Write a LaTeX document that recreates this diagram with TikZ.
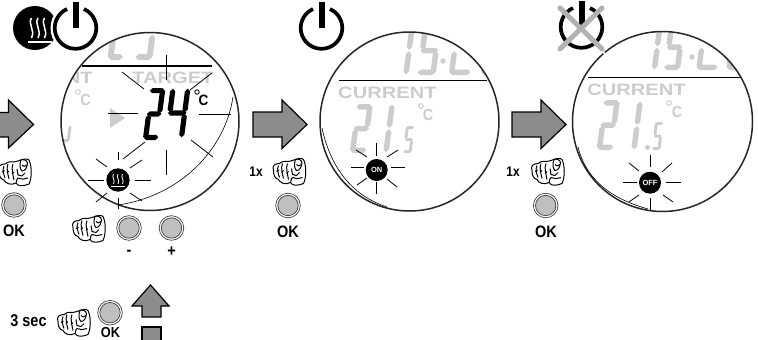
\documentclass[tikz,border=0pt]{standalone}
\usepackage{fontspec}
\setmainfont{Liberation Sans}
\definecolor{faint}{gray}{0.8}
\definecolor{arrowgray}{gray}{0.55}
\definecolor{btn}{gray}{0.75}
\tikzset{
  display/.style={draw=black!85,line width=1.5pt,fill=none},
  rule/.style={line width=1.4pt},
  ray/.style={line width=0.8pt},
  bigarrow/.style={draw=black,line width=1.2pt,fill=arrowgray,line join=miter},
  lbl/.style={font=\bfseries\fontsize{14}{14}\selectfont,inner sep=0pt,xscale=0.85},
  biglbl/.style={font=\bfseries\fontsize{16.5}{16.5}\selectfont,inner sep=0pt,xscale=0.88},
  faintlbl/.style={text=faint,font=\bfseries\fontsize{16.5}{16.5}\selectfont,inner sep=0pt,xscale=1.22},
  degC/.style={inner sep=0pt,font=\bfseries\fontsize{16}{16}\selectfont,xscale=0.9},
}
\newcommand{\hs}[3]{\fill (#1,#3) -- (#1+\hf,#3-\hf) -- (#2-\hf,#3-\hf) -- (#2,#3) -- (#2-\hf,#3+\hf) -- (#1+\hf,#3+\hf) -- cycle;}
\newcommand{\vs}[3]{\fill (#1,#2) -- (#1+\hf,#2+\hf) -- (#1+\hf,#3-\hf) -- (#1,#3) -- (#1-\hf,#3-\hf) -- (#1-\hf,#2+\hf) -- cycle;}
\newcommand{\sevseg}[7]{%
 \begin{scope}[shift={(#1,#2)},xslant=0.13,fill=#6]
 \pgfmathsetmacro{\hf}{#5/2}
 \pgfmathsetmacro{\xL}{\hf}
 \pgfmathsetmacro{\xR}{#3-\hf}
 \pgfmathsetmacro{\yT}{\hf}
 \pgfmathsetmacro{\yB}{#4-\hf}
 \pgfmathsetmacro{\yM}{#4/2}
 \pgfmathsetmacro{\gp}{0.7}
 \foreach \s in {#7}{%
   \ifnum\s=1 \hs{\gp}{#3-\gp}{\yT}\fi
   \ifnum\s=2 \vs{\xR}{\gp}{\yM-\gp}\fi
   \ifnum\s=3 \vs{\xR}{\yM+\gp}{#4-\gp}\fi
   \ifnum\s=4 \hs{\gp}{#3-\gp}{\yB}\fi
   \ifnum\s=5 \vs{\xL}{\yM+\gp}{#4-\gp}\fi
   \ifnum\s=6 \vs{\xL}{\gp}{\yM-\gp}\fi
   \ifnum\s=7 \hs{\gp}{#3-\gp}{\yM}\fi
 }
 \end{scope}}
\newcommand{\powersym}[2]{%
 \draw[line width=3.7pt,line cap=butt] (#1,#2) ++(-66:20.8) arc[start angle=-66,end angle=246,radius=20.8];
 \fill (#1-3,#2-26) rectangle (#1+3,#2);}
\tikzset{fisticon/.pic={
  \begin{scope}[line width=1pt,line join=round]
  \draw[fill=white] (-15,-1) .. controls (-17,-6) and (-13,-8) .. (-9,-8)
    .. controls (-5,-12) and (0,-9) .. (4,-11)
    .. controls (9,-13) and (13,-14) .. (15,-12)
    .. controls (18,-6) and (18,6) .. (15,12)
    .. controls (10,14) and (4,15) .. (2,11)
    .. controls (-3,14) and (-9,11) .. (-10,8)
    .. controls (-14,7) and (-15,3) .. (-15,-1) -- cycle;
  \draw (-10,-6) .. controls (-12,-2) and (-10,3) .. (-9,6);
  \draw (-6,-8) .. controls (-8,-3) and (-6,2) .. (-5,7);
  \draw (-1,-8) .. controls (-3,-3) and (-1,2) .. (0,8);
  \draw (-12,0) -- (-9.5,-1.5) (-7,1) -- (-5,-1) (-2,2) -- (0,0);
  \draw[fill=white] (7,-12) .. controls (5,-7) and (6,-3) .. (8,-1) .. controls (11,-1) and (13,-4) .. (13.5,-9) .. controls (13,-12) and (9,-13) .. (7,-12) -- cycle;
  \draw (8,-7) .. controls (9,-5) and (11,-5) .. (13,-7);
  \draw (3,-3) -- (4,3) -- (8,4) -- (11,1);
  \draw (4,6) .. controls (7,8) and (10,7) .. (14,6);
  \draw (2,11) .. controls (2,8) and (4,6) .. (4,6);
  \end{scope}}}
\newcommand{\rarrow}[2]{%
 \draw[bigarrow] (#1-54,#2-12.5) -- (#1-25,#2-12.5) -- (#1-25,#2-24.5) -- (#1,#2) -- (#1-25,#2+24) -- (#1-25,#2+12.5) -- (#1-54,#2+12.5) -- cycle;}
\newcommand{\okbutton}[2]{%
 \fill[white] (#1,#2) circle (12);
 \draw[black!75,line width=0.7pt] (#1,#2) circle (12.3);
 \draw[black!75,fill=btn,line width=0.7pt] (#1,#2) circle (10.2);}
\begin{document}
\begin{tikzpicture}[x=1pt,y=-1pt]
\useasboundingbox (0,0) rectangle (758,340);

% left partial arrow
\draw[bigarrow] (-4,112.5) -- (8.5,112.5) -- (8.5,100) -- (33.5,124.5) -- (8.5,148) -- (8.5,137) -- (-4,137);

% display 1
\begin{scope}
 \clip (150,121.5) circle (89);
 \sevseg{114}{8}{16}{52}{6}{faint}{4,5}
 \sevseg{141}{8}{18}{52}{6}{faint}{3,4}
 \sevseg{60}{108}{14}{34}{3}{faint}{3,4}
 \node[faintlbl,anchor=base west] (t1) at (132,83) {TARGET};
 \node[faintlbl,anchor=base east] (t2) at (93,83) {NT};
 \node[degC,text=faint] (t3) at (85.5,100) {C};
 \draw[faint,line width=1pt] (78,92) circle (2.3);
 \fill[faint] (110,108) -- (125,118) -- (110,128) -- cycle;
\end{scope}
\sevseg{149.5}{88}{16}{52}{5.2}{black}{1,2,4,5,7}
\sevseg{170.5}{88}{20}{50}{5.2}{black}{2,3,6,7}
\node[degC,font=\bfseries\fontsize{15}{15}\selectfont] (c24) at (203.5,100.5) {C};
\draw[black,line width=0.9pt] (197,92) circle (2.2);
\draw[ray] (166,55) -- (166,80);
\draw[ray] (122,72) -- (144,89);
\draw[ray] (212,73) -- (190,90);
\draw[ray] (108,113.5) -- (138,113.5);
\draw[ray] (199,114) -- (231,114);
\draw[ray] (123,159) -- (145,142);
\draw[ray] (191,140) -- (213,157);
\draw[ray] (166,150) -- (166,175);
\draw[rule] (82,66) -- (212,66);
\draw[display] (150,121.5) circle (89);
\draw[line width=0.6pt] (233,97) .. controls (225,150) and (180,196) .. (118,205);
% heat symbol
\fill (118,180) circle (11.7);
\foreach \i in {-4.5,0,4.5}{\draw[white,line width=0.8pt] (118+\i,174) .. controls (118+\i-2.5,177) and (118+\i+2.5,180) .. (118+\i,184);}
\draw[white,line width=0.8pt] (111,186) -- (125,186);
\draw[ray] (88,180) -- (104,180);
\draw[ray] (135,180) -- (151,180);
\draw[ray] (118,152) -- (118,160);
\draw[ray] (118,198) -- (118,209);
\draw[ray] (96,159) -- (107,167);
\draw[ray] (130,168) -- (142,160);
\draw[ray] (96,202) -- (107,193);
\draw[ray] (130,193) -- (142,201);

% top icons left
\fill (35,28) circle (22);
\foreach \i in {-6.5,0,6.5}{\draw[white,line width=1.5pt] (38+\i,18) .. controls (38+\i-4,24) and (38+\i+4,30) .. (38+\i,38);}
\draw[white,line width=1.2pt] (28,42) -- (52,42);
\fill[white] (75.5,28) circle (25);
\powersym{75.5}{28}

% buttons
\okbutton{129}{228}
\okbutton{171.5}{228}
\node[biglbl] (minus) at (129,253) {-};
\node[biglbl] (plus) at (171.5,252) {+};
\pic at (88,228.5) {fisticon};
\okbutton{14}{205}
\node[biglbl] (ok0) at (14,231) {OK};
\pic at (14,172) {fisticon};

% bottom
\node[lbl,font=\bfseries\fontsize{17}{17}\selectfont,xscale=1] (sec) at (28.5,321) {3 sec};
\pic at (73,322.5) {fisticon};
\okbutton{110}{312.7}
\node[biglbl,anchor=base,font=\bfseries\fontsize{14.5}{14.5}\selectfont,xscale=1] (ok3) at (110.5,337) {OK};
\draw[bigarrow] (150.5,285) -- (169,306) -- (161,306) -- (161,317) -- (142,317) -- (142,306) -- (132,306) -- cycle;
\draw[bigarrow] (142,342) -- (142,327) -- (161,327) -- (161,342);

% arrow 2
\rarrow{307}{124.5}
\node[lbl] (x1) at (256,172) {1x};
\pic at (288.5,171.5) {fisticon};
\okbutton{288}{205.5}
\node[biglbl] (ok1) at (288,232) {OK};

% display 2
\powersym{321.5}{28}
\begin{scope}
 \clip (409.5,121.5) circle (89.5);
 \sevseg{405}{26}{10}{49}{5.5}{faint}{2,3}
 \sevseg{423}{26}{19}{49}{5.5}{faint}{1,3,4,6,7}
 \fill[faint] (443,61) circle (2.7);
 \sevseg{455}{26}{22}{49}{5.5}{faint}{4,5}
 \sevseg{487}{26}{22}{49}{5.5}{faint}{4,5}
 \node[faintlbl,anchor=base west] (cur2) at (338,98) {CURRENT};
 \sevseg{356}{104}{17}{49}{5.5}{faint}{1,2,4,5,7}
 \sevseg{387}{104}{8}{49}{5.5}{faint}{2,3}
 \sevseg{406}{126}{9}{27}{3}{faint}{1,3,4,6,7}
\end{scope}
\node[degC,text=faint] (c2) at (428,115) {C};
\draw[faint,line width=1pt] (421,106) circle (2.3);
\draw[rule] (339,80.7) -- (487,80.7);
\draw[display] (409.5,121.5) circle (89.5);
\draw[line width=0.6pt] (322,128) .. controls (330,165) and (350,195) .. (387,207);
\fill (376.7,170) circle (11);
\node[font=\bfseries\fontsize{7.5}{7.5}\selectfont,text=white,inner sep=0pt] (on) at (376.7,170) {ON};
\draw[ray] (351,167.5) -- (364,167.5);
\draw[ray] (391,167.5) -- (405,167.5);
\draw[ray] (376,143) -- (376,156);
\draw[ray] (376,182) -- (376,194);
\draw[ray] (356,150) -- (367,157);
\draw[ray] (387,157) -- (398,150);
\draw[ray] (357,185) -- (367,178);
\draw[ray] (387,179) -- (397,187);

% arrow 3
\rarrow{566}{124.5}
\node[lbl] (x2) at (513,172) {1x};
\pic at (547,171.5) {fisticon};
\okbutton{545.7}{205.5}
\node[biglbl] (ok2) at (546,232) {OK};

% display 3
\powersym{581.5}{27}
\draw[black!30,line width=5pt,line cap=round] (560,8) -- (602,49) (602,8) -- (560,49);
\begin{scope}
 \clip (662.5,121.5) circle (90);
 \sevseg{654}{24}{9}{46}{5.5}{faint}{2,3}
 \sevseg{669}{24}{17}{46}{5.5}{faint}{1,3,4,6,7}
 \fill[faint] (692,57) circle (2.7);
 \sevseg{702}{24}{22}{46}{5.5}{faint}{4,5}
 \sevseg{732}{24}{22}{46}{5.5}{faint}{4,5}
 \node[faintlbl,anchor=base west] (cur3) at (587,95) {CURRENT};
 \sevseg{603}{100}{17}{50}{5.5}{faint}{1,2,4,5,7}
 \sevseg{635}{101}{8}{49}{5.5}{faint}{2,3}
 \fill[faint] (647.5,147.5) circle (2.5);
 \sevseg{655}{122}{9}{28}{3}{faint}{1,3,4,6,7}
\end{scope}
\node[degC,text=faint] (c3) at (677,112) {C};
\draw[faint,line width=1pt] (669,103) circle (2.3);
\draw[rule] (588,77.7) -- (741,77.7);
\draw[display] (662.5,121.5) circle (90);
\draw[white,line width=1.5pt] (603,52) -- (607,56);
\draw[line width=0.6pt] (578,147) .. controls (585,175) and (605,197) .. (648,209);
\fill (650,182.7) circle (11);
\node[font=\bfseries\fontsize{7.5}{7.5}\selectfont,text=white,inner sep=0pt] (off) at (650,182.7) {OFF};
\draw[ray] (623,182) -- (637,182);
\draw[ray] (666,182) -- (681,182);
\draw[ray] (650,155) -- (650,167);
\draw[ray] (650,198) -- (650,211);
\draw[ray] (629,163) -- (639,171);
\draw[ray] (662,172) -- (672,163);
\draw[ray] (629,202) -- (639,195);
\draw[ray] (663,195) -- (673,202);
\end{tikzpicture}
\end{document}
